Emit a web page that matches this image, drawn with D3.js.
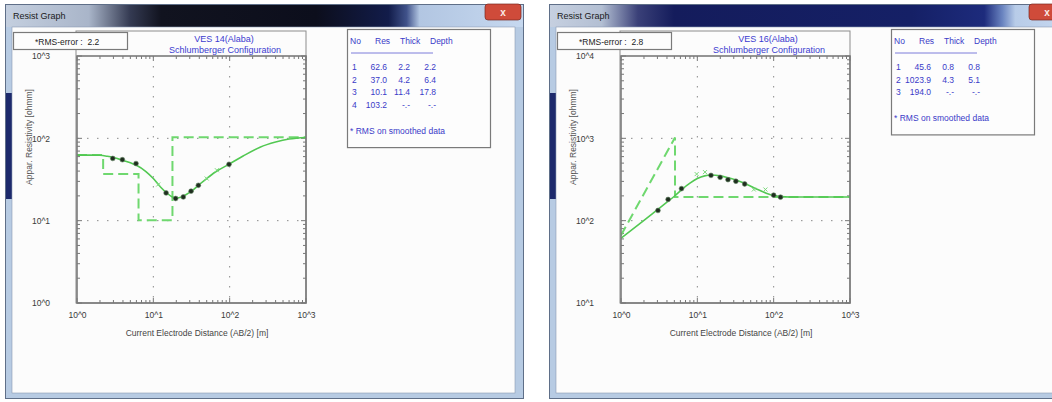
<!DOCTYPE html>
<html>
<head>
<meta charset="utf-8">
<script src="https://cdn.jsdelivr.net/npm/d3@7"></script>
<style>
  body { margin: 0; background: #ffffff; }
  svg { display: block; font-family: "Liberation Sans", Arial, sans-serif; }
</style>
</head>
<body>
<svg id="chart" width="1052" height="402"></svg>
<script>
// shared x axis (AB/2 in m)
const xTicks = [1, 10, 100, 1000];
const xTickLabels = ["10^0", "10^1", "10^2", "10^3"];
const tableHeader = ["No", "Res", "Thick", "Depth"];

// ---- VES 14 (Alaba) ----
const ves14YTicks = [1, 10, 100, 1000];
const ves14YTickLabels = ["10^0", "10^1", "10^2", "10^3"];
const ves14CurveAB = [1, 1.5, 2, 2.5, 3, 4, 5, 6, 8, 10, 12.5, 15, 18, 20, 23, 27, 32, 40, 50, 65, 100, 150, 250, 400, 600, 1000];
const ves14CurveRho = [62.6, 62.6, 62.2, 60.5, 58.5, 54, 50.5, 47, 39.5, 32.5, 25.5, 21.7, 19.3, 19.0, 19.3, 20.8, 23, 27.5, 32.5, 39, 49, 61, 78, 90, 98, 102.5];
const ves14ModelAB = [1, 2.2, 2.2, 6.4, 6.4, 17.8, 17.8, 1000];
const ves14ModelRho = [62.6, 62.6, 37.0, 37.0, 10.1, 10.1, 103.2, 103.2];
const ves14ObsAB = [2.94, 3.93, 5.93, 14.7, 19.6, 24.7, 31.2, 38.9, 98];
const ves14ObsRho = [57, 55, 49.4, 21.7, 18.6, 19.4, 22.8, 26.9, 48.4];
const ves14SmoothAB = [11.6, 50, 68];
const ves14SmoothRho = [27.5, 32.5, 41];
const ves14Table = [
  ["1", "62.6", "2.2", "2.2"],
  ["2", "37.0", "4.2", "6.4"],
  ["3", "10.1", "11.4", "17.8"],
  ["4", "103.2", "-.-", "-.-"]
];

// ---- VES 16 (Alaba) ----
const ves16YTicks = [10, 100, 1000, 10000];
const ves16YTickLabels = ["10^1", "10^2", "10^3", "10^4"];
const ves16CurveAB = [1, 2, 3, 4, 5, 6.3, 8, 10, 12.5, 15, 20, 25, 32, 40, 50, 63, 80, 100, 125, 160, 250, 1000];
const ves16CurveRho = [61, 101, 136, 168, 198, 240, 285, 325, 350, 358, 350, 333, 312, 288, 262, 237, 216, 202, 196, 194, 194, 194];
const ves16ModelAB = [0.8, 5.1, 5.1, 1000];
const ves16ModelRho = [45.6, 1023.9, 194.0, 194.0];
const ves16ObsAB = [3.05, 4.14, 6.2, 15.1, 19.9, 25.2, 32, 41.7, 100, 123];
const ves16ObsRho = [133, 181, 245, 355, 336, 315, 301, 279, 204, 193];
const ves16SmoothAB = [9.8, 12.6, 55, 78];
const ves16SmoothRho = [368, 389, 239, 239];
const ves16Table = [
  ["1", "45.6", "0.8", "0.8"],
  ["2", "1023.9", "4.3", "5.1"],
  ["3", "194.0", "-.-", "-.-"]
];

const svg = d3.select("#chart");
const defs = svg.append("defs");

function zip(a, b) { return a.map((v, i) => [v, b[i]]); }

function titleGradient(id, stops) {
  let gr = defs.append("linearGradient").attr("id", id)
    .attr("x1", "0").attr("x2", "1").attr("y1", "0").attr("y2", "0");
  stops.forEach(s => gr.append("stop").attr("offset", s[0]).attr("stop-color", s[1]));
}

titleGradient("tb1", [[0, "#c4cfdf"], [0.16, "#a9b5c9"], [0.24, "#343a52"], [0.3, "#11131f"], [0.6, "#0c0e1c"], [0.74, "#121c4a"], [0.775, "#40528a"], [0.8, "#b2c6e2"], [1, "#c6d8ef"]]);
titleGradient("tb2", [[0, "#c6d0e0"], [0.1, "#b3bfd3"], [0.17, "#3a4078"], [0.24, "#141c5c"], [0.7, "#152066"], [0.84, "#1d2b7c"], [0.875, "#6a84c0"], [0.9, "#b8cce8"], [1, "#c6d8f0"]]);

function drawWindow(ox, cfg) {
  let g = svg.append("g").attr("transform", `translate(${ox},0)`);

  /* window frame */
  g.append("rect").attr("x", 5.5).attr("y", 4.5).attr("width", 518).attr("height", 394)
    .attr("fill", "#b7cbe3").attr("stroke", "#5f6f88");
  g.append("rect").attr("x", 6).attr("y", 93).attr("width", 6).attr("height", 106).attr("fill", "#1d2a6c");
  g.append("rect").attr("x", 6).attr("y", 5).attr("width", 517).attr("height", 22)
    .attr("fill", `url(#${cfg.grad})`);
  g.append("text").attr("x", 13).attr("y", 19).attr("font-size", 9).attr("fill", "#1a1a1a")
    .text("Resist Graph");

  // close button
  let cb = g.append("g").attr("transform", "translate(485,4)");
  cb.append("rect").attr("width", 36).attr("height", 16).attr("rx", 3)
    .attr("fill", "#cf4b3a").attr("stroke", "#7a2a20").attr("stroke-width", 0.7);
  cb.append("text").attr("x", 18).attr("y", 12).attr("text-anchor", "middle")
    .attr("font-size", 10).attr("font-weight", "bold").attr("fill", "#fbe9e6").text("x");

  /* client area */
  g.append("rect").attr("x", 12).attr("y", 27).attr("width", 503).attr("height", 366)
    .attr("fill", "#fcfcfc").attr("stroke", "#8a9ab2").attr("stroke-width", 0.6);

  /* plot */
  const L = 77, R = 306, T = 56, B = 303;
  let x = d3.scaleLog().domain([1, 1000]).range([L, R]);
  let y = d3.scaleLog().domain(cfg.yDomain).range([B, T]);

  // title box
  g.append("rect").attr("x", L - 1).attr("y", 31).attr("width", R - L + 1).attr("height", B - 31)
    .attr("fill", "none").attr("stroke", "#8c8c8c").attr("stroke-width", 1);
  g.append("text").attr("x", 224).attr("y", 42).attr("text-anchor", "middle")
    .attr("font-size", 9).attr("fill", "#3b3bd0").text(cfg.title);
  g.append("text").attr("x", 225).attr("y", 53).attr("text-anchor", "middle")
    .attr("font-size", 9).attr("fill", "#3b3bd0").text("Schlumberger Configuration");

  // grid
  let grid = g.append("g").attr("stroke", "#8a8a8a").attr("stroke-dasharray", "1.5,8.5");
  xTicks.slice(1, -1).forEach(v => grid.append("line")
    .attr("x1", x(v)).attr("x2", x(v)).attr("y1", T).attr("y2", B));
  cfg.yTicks.slice(1, -1).forEach(v => grid.append("line")
    .attr("x1", L).attr("x2", R).attr("y1", y(v)).attr("y2", y(v)));

  // minor + major ticks on all four sides
  let tk = g.append("g").attr("stroke", "#777").attr("stroke-width", 1);
  x.ticks().forEach(v => {
    let len = xTicks.includes(v) ? 5 : 3;
    tk.append("line").attr("x1", x(v)).attr("x2", x(v)).attr("y1", B).attr("y2", B - len);
    tk.append("line").attr("x1", x(v)).attr("x2", x(v)).attr("y1", T).attr("y2", T + len);
  });
  y.ticks().forEach(v => {
    let len = cfg.yTicks.includes(v) ? 5 : 3;
    tk.append("line").attr("x1", L).attr("x2", L + len).attr("y1", y(v)).attr("y2", y(v));
    tk.append("line").attr("x1", R).attr("x2", R - len).attr("y1", y(v)).attr("y2", y(v));
  });

  // axes labels through d3 axes
  let xAxis = g.append("g").attr("transform", `translate(0,${B})`)
    .call(d3.axisBottom(x).tickValues(xTicks).tickFormat((d, i) => xTickLabels[i])
      .tickSize(0).tickPadding(9));
  let yAxis = g.append("g").attr("transform", `translate(${L},0)`)
    .call(d3.axisLeft(y).tickValues(cfg.yTicks).tickFormat((d, i) => cfg.yTickLabels[i])
      .tickSize(0).tickPadding(27));
  [xAxis, yAxis].forEach(a => {
    a.select(".domain").remove();
    a.selectAll("text").attr("font-size", 8.5).attr("fill", "#3a3a3a")
      .attr("font-family", "Liberation Sans, Arial, sans-serif");
  });
  yAxis.selectAll("text").attr("text-anchor", "middle").attr("dx", "-9");

  g.append("text").attr("x", 197).attr("y", 336).attr("text-anchor", "middle")
    .attr("font-size", 8.5).attr("fill", "#444")
    .text("Current Electrode Distance (AB/2) [m]");
  g.append("text").attr("transform", "translate(32,137) rotate(-90)")
    .attr("text-anchor", "middle").attr("font-size", 8.5).attr("fill", "#555")
    .text("Appar. Resistivity [ohmm]");

  // clip
  defs.append("clipPath").attr("id", cfg.clip).append("rect")
    .attr("x", L).attr("y", T).attr("width", R - L).attr("height", B - T);
  let plot = g.append("g").attr("clip-path", `url(#${cfg.clip})`);

  let line = d3.line().x(d => x(d[0])).y(d => y(d[1]));

  plot.append("path").datum(zip(cfg.modelAB, cfg.modelRho))
    .attr("d", line).attr("fill", "none")
    .attr("stroke", "#6fd86f").attr("stroke-width", 2).attr("stroke-dasharray", "10,5");

  plot.append("path").datum(zip(cfg.curveAB, cfg.curveRho))
    .attr("d", line.curve(d3.curveMonotoneX)).attr("fill", "none")
    .attr("stroke", "#52c852").attr("stroke-width", 1.6);

  // smoothed data markers
  plot.selectAll(".sm").data(zip(cfg.smoothAB, cfg.smoothRho)).enter()
    .append("path").attr("class", "sm")
    .attr("d", d => `M${x(d[0]) - 2},${y(d[1]) - 2}L${x(d[0]) + 2},${y(d[1]) + 2}M${x(d[0]) - 2},${y(d[1]) + 2}L${x(d[0]) + 2},${y(d[1]) - 2}`)
    .attr("stroke", "#7ad87a").attr("stroke-width", 1);

  // observed data
  plot.selectAll(".obs").data(zip(cfg.obsAB, cfg.obsRho)).enter()
    .append("circle").attr("class", "obs")
    .attr("cx", d => x(d[0])).attr("cy", d => y(d[1])).attr("r", 2.4)
    .attr("fill", "#1e2e1e").attr("stroke", "#6a8a6a").attr("stroke-width", 0.6);

  // plot frame
  g.append("rect").attr("x", L).attr("y", T).attr("width", R - L).attr("height", B - T)
    .attr("fill", "none").attr("stroke", "#7a7a7a").attr("stroke-width", 1.6);

  /* RMS box */
  g.append("rect").attr("x", 13.5).attr("y", 32.5).attr("width", 114).attr("height", 17)
    .attr("fill", "#fdfdfd").attr("stroke", "#7a7a7a").attr("stroke-width", 1.2);
  g.append("text").attr("x", 35).attr("y", 45).attr("font-size", 8.5).attr("fill", "#222")
    .attr("xml:space", "preserve").text(cfg.rms);
  // y top label drawn above the RMS box
  yAxis.raise();

  /* table box */
  const tx = 347, rowH = 12.7;
  let nRows = cfg.table.length;
  let footY = 67 + (nRows - 1) * rowH + 26;
  g.append("rect").attr("x", tx + 0.5).attr("y", 29.5).attr("width", 143).attr("height", footY + 16 - 29)
    .attr("fill", "#fdfdfd").attr("stroke", "#7a7a7a").attr("stroke-width", 1.2);
  let tb = g.append("g").attr("font-size", 8.5).attr("fill", "#3a3ac8");
  let hx = [3, 28, 53, 83];
  tableHeader.forEach((h, i) => tb.append("text").attr("x", tx + hx[i]).attr("y", 44).text(h));
  tb.append("line").attr("x1", tx + 4).attr("x2", tx + 86).attr("y1", 53).attr("y2", 53)
    .attr("stroke", "#5a5ad0").attr("stroke-width", 0.8);
  let cx = [[5, "start"], [40, "end"], [63, "end"], [89, "end"]];
  cfg.table.forEach((row, r) => {
    row.forEach((v, c) => tb.append("text")
      .attr("x", tx + cx[c][0]).attr("y", 70 + r * rowH)
      .attr("text-anchor", cx[c][1]).text(v));
  });
  tb.append("text").attr("x", tx + 3).attr("y", footY + 3).text("* RMS on smoothed data");
}

drawWindow(0, {
  grad: "tb1", clip: "clip1",
  title: "VES 14(Alaba)", rms: "*RMS-error :  2.2",
  yDomain: [1, 1000], yTicks: ves14YTicks, yTickLabels: ves14YTickLabels,
  curveAB: ves14CurveAB, curveRho: ves14CurveRho,
  modelAB: ves14ModelAB, modelRho: ves14ModelRho,
  obsAB: ves14ObsAB, obsRho: ves14ObsRho,
  smoothAB: ves14SmoothAB, smoothRho: ves14SmoothRho,
  table: ves14Table
});

drawWindow(544, {
  grad: "tb2", clip: "clip2",
  title: "VES 16(Alaba)", rms: "*RMS-error :  2.8",
  yDomain: [10, 10000], yTicks: ves16YTicks, yTickLabels: ves16YTickLabels,
  curveAB: ves16CurveAB, curveRho: ves16CurveRho,
  modelAB: ves16ModelAB, modelRho: ves16ModelRho,
  obsAB: ves16ObsAB, obsRho: ves16ObsRho,
  smoothAB: ves16SmoothAB, smoothRho: ves16SmoothRho,
  table: ves16Table
});
</script>
</body>
</html>
